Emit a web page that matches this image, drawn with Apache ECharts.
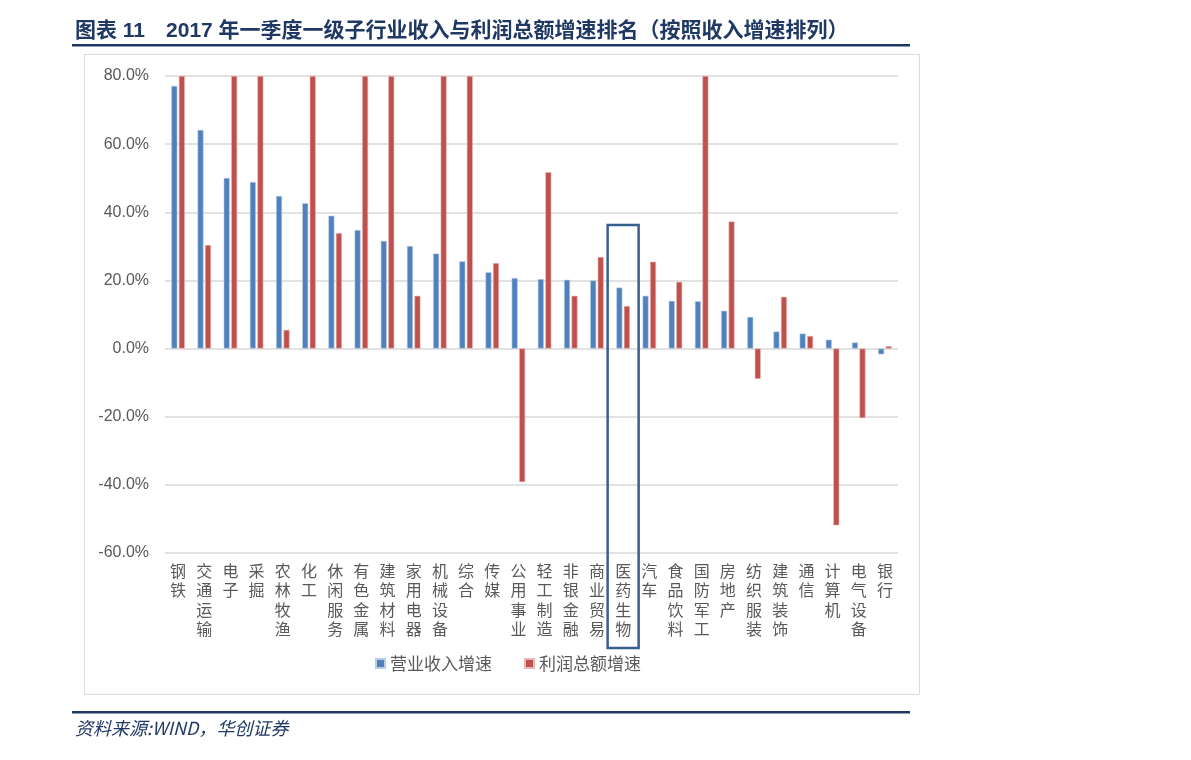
<!DOCTYPE html>
<html><head><meta charset="utf-8">
<script src="https://cdn.jsdelivr.net/npm/echarts@6/dist/echarts.min.js"></script>
<style>html,body{margin:0;padding:0;background:#fff}#c{width:1191px;height:760px}</style>
</head><body><div id="c"></div>
<script>
const categories = ['钢铁','交通运输','电子','采掘','农林牧渔','化工','休闲服务','有色金属','建筑材料','家用电器','机械设备','综合','传媒','公用事业','轻工制造','非银金融','商业贸易','医药生物','汽车','食品饮料','国防军工','房地产','纺织服装','建筑装饰','通信','计算机','电气设备','银行'];
const revenueGrowth = [77.1,64.2,50.1,48.9,44.8,42.7,39.0,34.8,31.6,30.1,27.9,25.6,22.4,20.7,20.4,20.2,20.0,17.9,15.5,14.0,13.9,11.1,9.3,5.0,4.4,2.6,1.8,-1.7];
const profitGrowth = [80,30.4,80,80,5.5,80,33.9,80,80,15.5,80,80,25.1,-39.2,51.8,15.5,26.9,12.5,25.5,19.6,80,37.3,-8.9,15.2,3.7,-51.9,-20.4,0.7];
const yTicks = {min:-60, max:80, interval:20};
const seriesNames = ['营业收入增速','利润总额增速'];
const highlightCategory = '医药生物';

const chart = echarts.init(document.getElementById('c'));
const cjk = '"Noto Sans CJK SC", "Noto Sans", sans-serif';
chart.setOption({
  animation:false,
  backgroundColor:'#fff',
  grid:{left:165,right:293,top:76,bottom:207,containLabel:false},
  legend:{
    data:seriesNames, bottom:83, left:370, itemWidth:9, itemHeight:9, itemGap:32,
    icon:'rect', textStyle:{fontFamily:cjk,fontSize:17,color:'#595959'}
  },
  xAxis:{
    type:'category', data:categories, position:'bottom',
    axisLine:{show:false}, axisTick:{show:false},
    axisLabel:{
      interval:0, margin:8, fontFamily:cjk, fontSize:16, lineHeight:19.5, color:'#595959',
      verticalAlign:'top', formatter:v=>v.split('').join('\n')
    }
  },
  yAxis:{
    type:'value', min:yTicks.min, max:yTicks.max, interval:yTicks.interval,
    axisLine:{show:false}, axisTick:{show:false},
    axisLabel:{margin:16, fontFamily:'"Liberation Sans", Arial, sans-serif', fontSize:16, color:'#595959', formatter:v=>v.toFixed(1)+'%'},
    splitLine:{lineStyle:{color:'#d9d9d9',width:1.5}}
  },
  series:[
    {name:seriesNames[0], type:'bar', data:revenueGrowth, barWidth:6, barGap:'25%',
     itemStyle:{color:'#4f81bd',borderColor:'#b8cce4',borderWidth:0.6}},
    {name:seriesNames[1], type:'bar', data:profitGrowth, barWidth:6,
     itemStyle:{color:'#c0504d',borderColor:'#e6b9b8',borderWidth:0.6}}
  ]
});

const cx = chart.convertToPixel({xAxisIndex:0}, highlightCategory);
const yTop = chart.convertToPixel({yAxisIndex:0}, 36.3);
const yBot = chart.convertToPixel({yAxisIndex:0}, -60) + 95;
chart.setOption({
  graphic:[
    {type:'text', left:75, top:21, style:{text:'图表 11　2017 年一季度一级子行业收入与利润总额增速排名（按照收入增速排列）', font:'bold 21px "Liberation Sans", "Noto Sans CJK SC", sans-serif', fill:'#1f3864'}},
    {type:'rect', shape:{x:72,y:44,width:838,height:2.5}, style:{fill:'#1f3864'}},
    {type:'rect', shape:{x:84.5,y:54.5,width:835,height:640}, style:{fill:'none',stroke:'#d9d9d9',lineWidth:1}, z:-1},
    {type:'rect', shape:{x:cx-15.5,y:yTop,width:31,height:yBot-yTop}, style:{fill:'none',stroke:'#3a5f8f',lineWidth:2.5}, z:100},
    {type:'rect', shape:{x:72,y:711,width:838,height:2.5}, style:{fill:'#1f3864'}},
    {type:'text', left:75, top:719, style:{text:'资料来源:WIND，华创证券', font:'italic 18px "Noto Sans CJK SC", sans-serif', fill:'#1f3864'}}
  ]
});
</script></body></html>
